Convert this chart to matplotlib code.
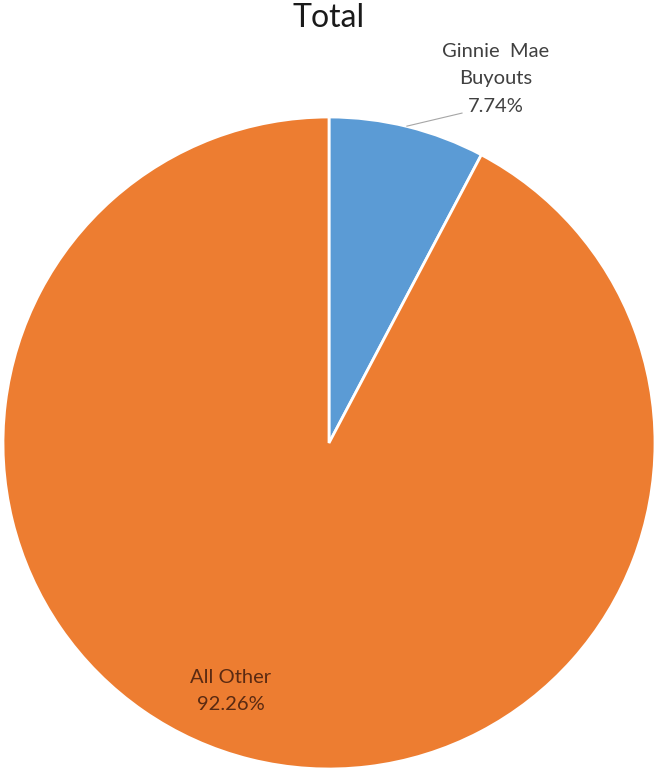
import matplotlib.pyplot as plt

labels = ["Ginnie  Mae\nBuyouts", "All Other"]
shares = [7.74, 92.26]
colors = ["#5B9BD5", "#ED7D31"]
text_colors = ["#404040", "#5A2A12"]

plt.rcParams['font.family'] = ['Lato', 'DejaVu Sans']

fig = plt.figure(figsize=(6.58, 7.70), dpi=100)
# pie centre about (329, 443) px, radius about 326 px
ax = fig.add_axes([3 / 658, 1 / 770, 652 / 658, 652 / 770])
wedges, _ = ax.pie(shares, colors=colors, startangle=90, counterclock=False,
                   wedgeprops=dict(edgecolor="white", linewidth=2))
ax.set_xlim(-1, 1)
ax.set_ylim(-1, 1)
ax.set_aspect("equal")
ax.axis("off")

# label for the small slice, outside with a leader line
ax.plot([0.239, 0.408], [0.972, 1.012], color="#A6A6A6", lw=0.8, clip_on=False)
ax.text(0.512, 1.117, f"{labels[0]}\n{shares[0]:.2f}%", ha="center", va="center",
        fontsize=14.5, color=text_colors[0], linespacing=1.75, clip_on=False)

# label inside the large slice
ax.text(-0.301, -0.761, f"{labels[1]}\n{shares[1]:.2f}%", ha="center", va="center",
        fontsize=14.5, color=text_colors[1], linespacing=1.75)

fig.text(0.5, 1 - 18 / 770, "Total", ha="center", va="center", fontsize=23, color="#1a1a1a")

fig.savefig("out.png", dpi=100)
